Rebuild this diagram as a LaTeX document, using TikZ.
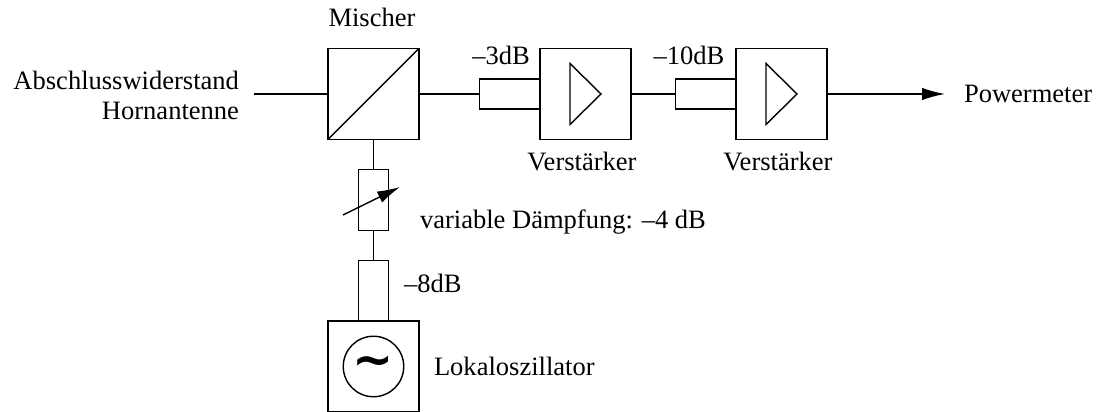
\documentclass[tikz,border=0pt]{standalone}
\usepackage{fontspec}
\setmainfont{Liberation Serif}
\newfontfamily\tildefont{DejaVu Sans}
\usetikzlibrary{arrows.meta,positioning}
\tikzset{
	block/.style={draw,rectangle,inner sep=0pt,outer sep=0pt,minimum width=1.82cm,minimum height=1.82cm},
	atth/.style={draw,rectangle,inner sep=0pt,outer sep=0pt,minimum width=1.21cm,minimum height=0.6cm},
	attv/.style={draw,rectangle,inner sep=0pt,outer sep=0pt,minimum width=0.6cm,minimum height=1.21cm},
	lbl/.style={inner sep=0pt,outer sep=0pt,font=\fontsize{15.1}{17}\selectfont},
	bigarrow/.style={-{Latex[length=13pt,width=7pt]}}
}
\begin{document}
\begin{tikzpicture}[on grid,line width=0.8pt]
	\useasboundingbox (-7.47,1.88) rectangle (14.45,-6.36);
	\node[block] (mischer) {};
	\node[atth] (att_1) [right=2.73cm of mischer] {};
	\node[block] (amp_1) [right=1.51cm of att_1] {};
	\node[atth] (att_2) [right=2.41cm of amp_1] {};
	\node[block] (amp_2) [right=1.51cm of att_2] {};
	\node[attv] (att_v) [below=2.12cm of mischer] {};
	\node[attv] (att_3) [below=1.81cm of att_v] {};
	\node[block] (lo) [below=1.52cm of att_3] {};
	\node[circle,draw,inner sep=0pt,minimum size=1.21cm,font=\fontsize{28}{28}\selectfont\tildefont\bfseries] (tilde) at (lo) {∼};

	\coordinate[left=2.39cm of mischer] (in_1);
	\coordinate[right=3.27cm of amp_2] (out_1);
	\coordinate[below left=0.3cm and 0.61cm of att_v] (var_a);
	\coordinate[above right=0.26cm and 0.53cm of att_v] (var_b);

	\draw (mischer.south west) -- (mischer.north east);
	\foreach \a in {amp_1,amp_2}
		\draw (\a.center) ++(-0.31,0.61) -- ++(0,-1.22) -- ++(0.62,0.61) -- cycle;

	\path[draw]
	(in_1) edge (mischer)
	(mischer) edge (att_1)
		edge (att_v)
	(att_v) edge (att_3)
	(amp_1) edge (att_2);
	\draw[bigarrow] (amp_2) -- (out_1);
	\draw[bigarrow] (var_a) -- (var_b);

	\node[lbl,align=right,below left=0.02cm and 2.69cm of mischer,anchor=east] (abschluss) {Abschlusswiderstand\\Hornantenne};
	\node[lbl] (l_mischer) [above left=1.54cm and 0.03cm of mischer] {Mischer};
	\node[lbl] (l_3db) [above left=0.78cm and 0.18cm of att_1] {–3dB};
	\node[lbl] (l_10db) [above left=0.78cm and 0.34cm of att_2] {–10dB};
	\node[lbl] (l_v1) [below left=1.36cm and 0.07cm of amp_1] {Verstärker};
	\node[lbl] (l_v2) [below left=1.36cm and 0.07cm of amp_2] {Verstärker};
	\node[lbl,right=3.65cm of amp_2,anchor=west] (l_pm) {Powermeter};
	\node[lbl,below right=0.44cm and 0.93cm of att_v,anchor=west] (l_var) {variable Dämpfung: –4 dB};
	\node[lbl,above right=0.15cm and 0.61cm of att_3,anchor=west] (l_8db) {–8dB};
	\node[lbl,right=1.21cm of lo,anchor=west] (l_lo) {Lokaloszillator};
\end{tikzpicture}
\end{document}
